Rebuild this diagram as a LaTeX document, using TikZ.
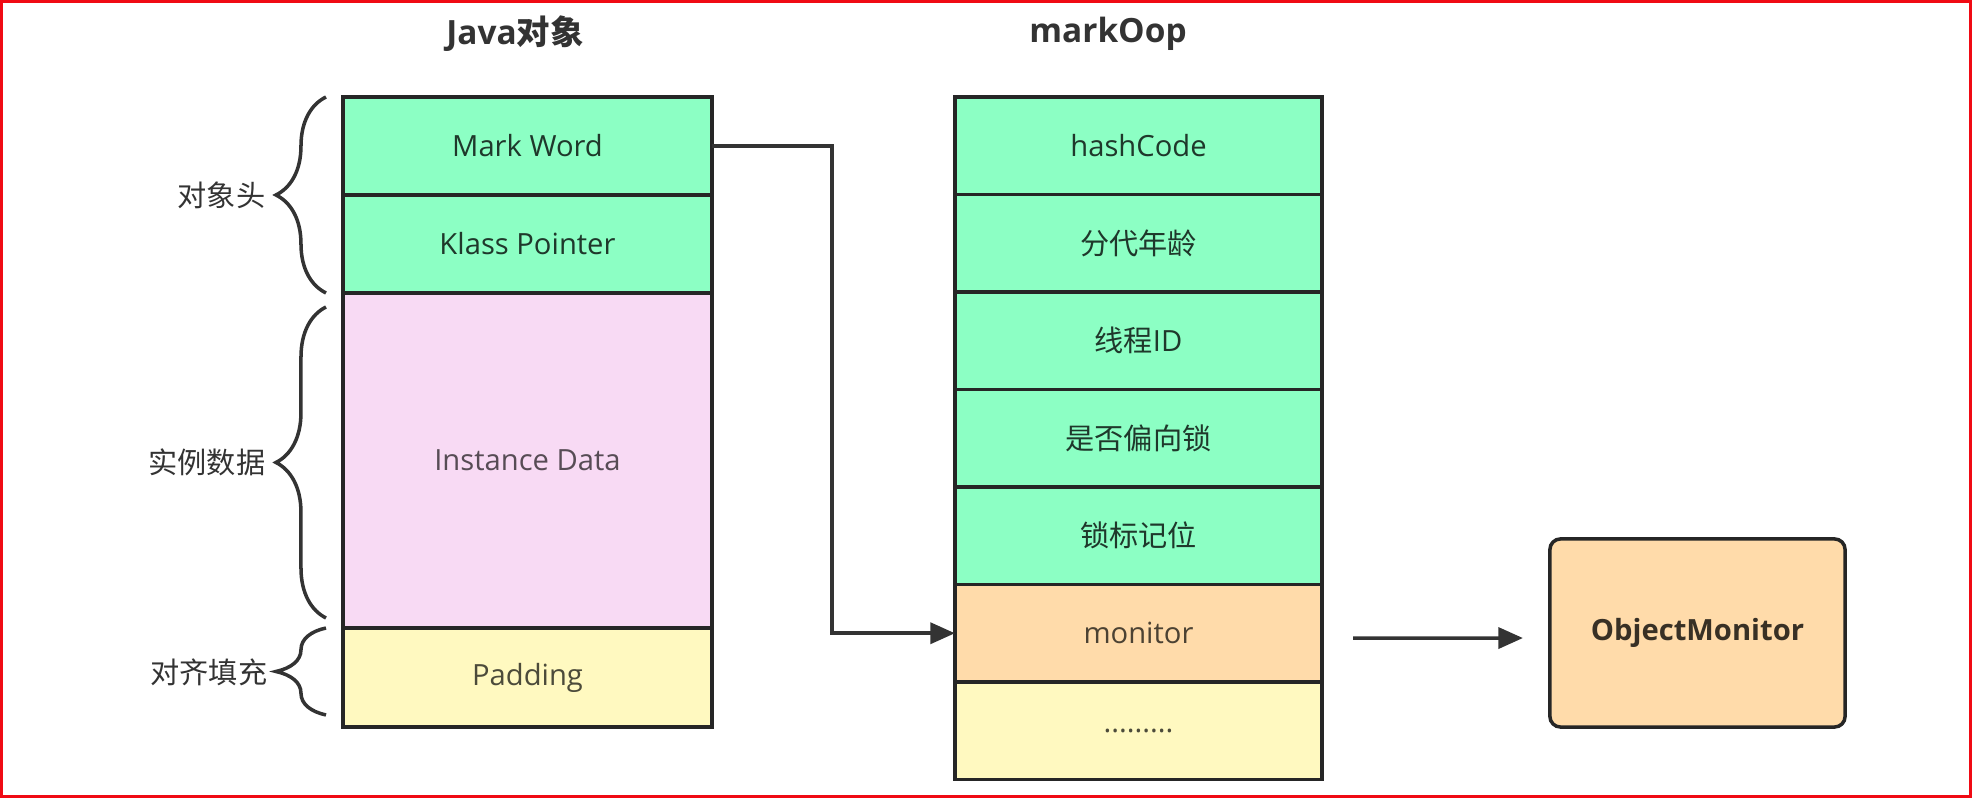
\documentclass[tikz,border=0pt]{standalone}
\usepackage{fontspec}
\setmainfont{Open Sans}
\newfontfamily\cjk{Noto Sans CJK SC}
\usetikzlibrary{arrows.meta,decorations,decorations.pathreplacing}
\definecolor{cellgreen}{RGB}{140,255,196}
\definecolor{cellpink}{RGB}{248,218,244}
\definecolor{cellyellow}{RGB}{255,249,192}
\definecolor{cellpeach}{RGB}{255,219,170}
\definecolor{framered}{RGB}{240,10,20}
\definecolor{inkgray}{RGB}{51,51,51}

\begin{document}
\begin{tikzpicture}[x=0.01cm,y=-0.01cm,
  cell/.style={draw=black!85,line width=1pt,inner sep=0pt,outer sep=0pt,
    font=\fontsize{8.3}{10}\selectfont},
  leftcell/.style={cell,minimum width=3.69cm},
  rightcell/.style={cell,minimum width=3.67cm,minimum height=0.975cm},
  greencell/.style={fill=cellgreen,text=cellgreen!22!black},
  title/.style={font=\fontsize{9.5}{11}\selectfont\bfseries,text=inkgray},
  lbl/.style={font=\fontsize{8.3}{10}\selectfont\cjk,text=inkgray,anchor=east,inner sep=0pt},
  curly/.style={decorate,decoration={brace,amplitude=0.5cm},draw=inkgray,line width=1pt},
  arr/.style={draw=inkgray,line width=1pt,-{Triangle[length=7pt,width=6pt]}}]
\useasboundingbox (0,0) rectangle (1972,798);
\draw[framered,line width=0.03cm] (1.5,1.5) rectangle (1970.5,796.5);

% Java object
\node[title] (jtitle) at (515,34) {Java{\cjk 对象}};
\node[leftcell,greencell,minimum height=0.98cm] (mw) at (527.5,146) {Mark Word};
\node[leftcell,greencell,minimum height=0.98cm] (kp) at (527.5,244) {Klass Pointer};
\node[leftcell,fill=cellpink,text=cellpink!35!black,minimum height=3.35cm] (ins) at (527.5,460.5) {Instance Data};
\node[leftcell,fill=cellyellow,text=cellyellow!30!black,minimum height=0.99cm] (pad) at (527.5,677.5) {Padding};

\draw[curly] (326,293) -- (326,97);
\node[lbl] (hdlbl) at (266,195) {对象头};
\draw[curly] (326,618) -- (326,307);
\node[lbl] (inslbl) at (266,462) {实例数据};
\draw[curly] (326,715) -- (326,628);
\node[lbl] (padlbl) at (268,672) {对齐填充};

% markOop
\node[title] (mtitle) at (1108,34) {markOop};
\node[rightcell,greencell] (hc) at (1138.5,145.75) {hashCode};
\node[rightcell,greencell] (age) at (1138.5,243.25) {\cjk 分代年龄};
\node[rightcell,greencell] (tid) at (1138.5,340.75) {{\cjk 线程}ID};
\node[rightcell,greencell] (bias) at (1138.5,438.25) {\cjk 是否偏向锁};
\node[rightcell,greencell] (lock) at (1138.5,535.75) {\cjk 锁标记位};
\node[rightcell,fill=cellpeach,text=cellpeach!30!black] (mon) at (1138.5,633.25) {monitor};
\node[rightcell,fill=cellyellow,text=cellyellow!30!black] (etc) at (1138.5,730.75) {.........};

\node[cell,fill=cellpeach,text=cellpeach!22!black,rounded corners=3pt,
  minimum width=2.95cm,minimum height=1.88cm,font=\fontsize{8.3}{10}\selectfont\bfseries] (om) at (1697.5,633) {ObjectMonitor};

\draw[arr] (mw.east) -- ++(120,0) |- (mon.west);
\draw[arr,shorten <=0.31cm,shorten >=0.27cm] ([yshift=-0.05cm]mon.east) -- ([yshift=-0.05cm]om.west);
\end{tikzpicture}
\end{document}
